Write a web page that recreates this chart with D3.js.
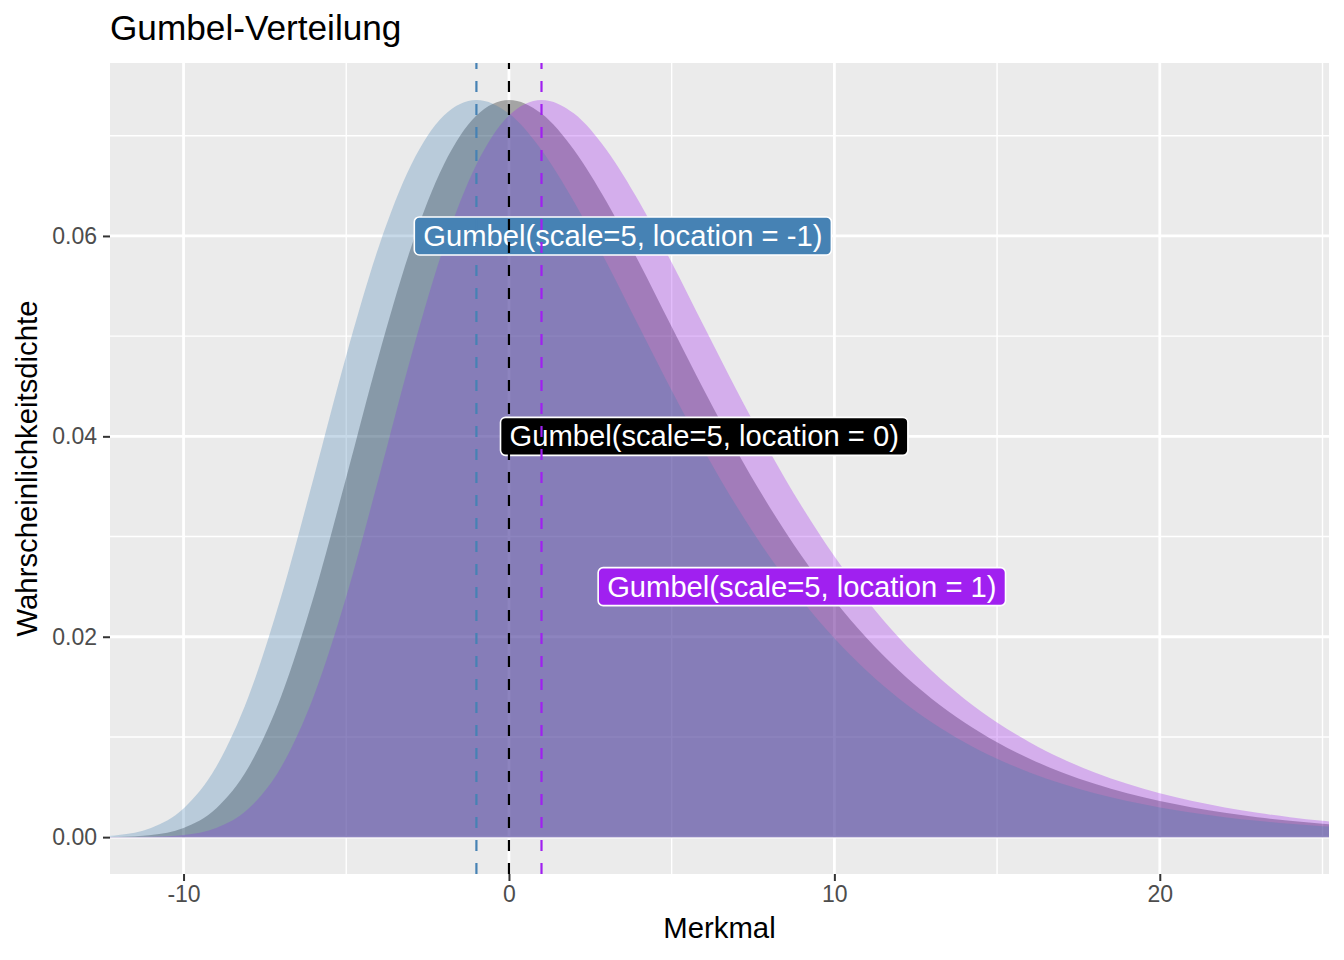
<!DOCTYPE html>
<html>
<head>
<meta charset="utf-8">
<script src="https://cdn.jsdelivr.net/npm/d3@7"></script>
<style>
  body { margin: 0; background: #fff; }
  text { font-family: "Liberation Sans", Arial, Helvetica, sans-serif; }
</style>
</head>
<body>
<div id="chart"></div>
<script>
const merkmal = [-13, -12, -11, -10, -9, -8, -7, -6, -5, -4, -3, -2, -1, 0, 1, 2, 3, 4, 5, 6,
  7, 8, 9, 10, 11, 12, 13, 14, 15, 16, 17, 18, 19, 20, 21, 22, 23, 24, 25, 26]

const dichteLocM1 = [0.000036, 0.000217, 0.000913, 0.002854, 0.006997, 0.014055, 0.024006, 0.035866,
  0.048072, 0.058922, 0.067118, 0.072014, 0.073576, 0.072212, 0.068576, 0.0634, 0.057342, 0.05093,
  0.04457, 0.038542, 0.032998, 0.028024, 0.023642, 0.01984, 0.01657, 0.013792, 0.011446, 0.009474,
  0.007826, 0.006456, 0.005318, 0.004376, 0.003596, 0.002954, 0.002425, 0.00199, 0.001632, 0.001339,
  0.001098, 0.000901]

const dichteLoc0 = [0.0000038, 0.000036, 0.000217, 0.000913, 0.002854, 0.006997, 0.014055, 0.024006,
  0.035866, 0.048072, 0.058922, 0.067118, 0.072014, 0.073576, 0.072212, 0.068576, 0.0634, 0.057342,
  0.05093, 0.04457, 0.038542, 0.032998, 0.028024, 0.023642, 0.01984, 0.01657, 0.013792, 0.011446,
  0.009474, 0.007826, 0.006456, 0.005318, 0.004376, 0.003596, 0.002954, 0.002425, 0.00199, 0.001632,
  0.001339, 0.001098]

const dichteLocP1 = [0.00000024, 0.0000038, 0.000036, 0.000217, 0.000913, 0.002854, 0.006997, 0.014055,
  0.024006, 0.035866, 0.048072, 0.058922, 0.067118, 0.072014, 0.073576, 0.072212, 0.068576, 0.0634,
  0.057342, 0.05093, 0.04457, 0.038542, 0.032998, 0.028024, 0.023642, 0.01984, 0.01657, 0.013792,
  0.011446, 0.009474, 0.007826, 0.006456, 0.005318, 0.004376, 0.003596, 0.002954, 0.002425, 0.00199,
  0.001632, 0.001339]

const lagen = [-1, 0, 1]
const farben = ["#4682B4", "#000000", "#A020F0"]
const labelTexte = [
  "Gumbel(scale=5, location = -1)",
  "Gumbel(scale=5, location = 0)",
  "Gumbel(scale=5, location = 1)"
]
const labelX = [3.5, 6, 9]
const labelY = [0.06, 0.04, 0.025]

const xTicks = [-10, 0, 10, 20]
const xMinor = [-5, 5, 15, 25]
const yTicks = [0, 0.02, 0.04, 0.06]
const yMinor = [0.01, 0.03, 0.05, 0.07]

const width = 1344
const height = 960
const margin = { top: 63, right: 15, bottom: 86, left: 110 }

const svg = d3.select("#chart").append("svg")
  .attr("width", width)
  .attr("height", height)
  .attr("viewBox", [0, 0, width, height])

const x = d3.scaleLinear().domain([-12.26, 25.2]).range([margin.left, width - margin.right])
const y = d3.scaleLinear().domain([-0.00368, 0.07726]).range([height - margin.bottom, margin.top])

// Panel
svg.append("rect")
  .attr("x", margin.left).attr("y", margin.top)
  .attr("width", width - margin.left - margin.right)
  .attr("height", height - margin.top - margin.bottom)
  .attr("fill", "#EBEBEB")

svg.append("clipPath").attr("id", "panel")
  .append("rect")
  .attr("x", margin.left).attr("y", margin.top)
  .attr("width", width - margin.left - margin.right)
  .attr("height", height - margin.top - margin.bottom)

const grid = svg.append("g").attr("stroke", "#fff")
grid.selectAll(".vmin").data(xMinor).join("line")
  .attr("x1", d => x(d)).attr("x2", d => x(d))
  .attr("y1", margin.top).attr("y2", height - margin.bottom)
  .attr("stroke-width", 1.4)
grid.selectAll(".hmin").data(yMinor).join("line")
  .attr("y1", d => y(d)).attr("y2", d => y(d))
  .attr("x1", margin.left).attr("x2", width - margin.right)
  .attr("stroke-width", 1.4)
grid.selectAll(".vmaj").data(xTicks).join("line")
  .attr("x1", d => x(d)).attr("x2", d => x(d))
  .attr("y1", margin.top).attr("y2", height - margin.bottom)
  .attr("stroke-width", 2.8)
grid.selectAll(".hmaj").data(yTicks).join("line")
  .attr("y1", d => y(d)).attr("y2", d => y(d))
  .attr("x1", margin.left).attr("x2", width - margin.right)
  .attr("stroke-width", 2.8)

// Flaechen
const serien = [dichteLocM1, dichteLoc0, dichteLocP1].map((werte, i) => ({
  lage: lagen[i],
  farbe: farben[i],
  punkte: merkmal.map((m, j) => [m, werte[j]])
}))

// Zeichenreihenfolge wie im Original: Lage 0, Lage 1, Lage -1
const reihenfolge = [serien[1], serien[2], serien[0]]

const area = d3.area()
  .x(d => x(d[0]))
  .y0(y(0))
  .y1(d => y(d[1]))
  .curve(d3.curveMonotoneX)

const plot = svg.append("g").attr("clip-path", "url(#panel)")
plot.selectAll("path.flaeche").data(reihenfolge).join("path")
  .attr("class", "flaeche")
  .attr("d", d => area(d.punkte))
  .attr("fill", d => d.farbe)
  .attr("fill-opacity", 0.3)

// Labels
const labels = plot.selectAll("g.label").data(serien).join("g")
  .attr("class", "label")
  .attr("transform", (d, i) => `translate(${x(labelX[i])},${y(labelY[i])})`)

labels.append("text")
  .attr("text-anchor", "middle")
  .attr("dominant-baseline", "central")
  .attr("font-size", 29.2)
  .attr("fill", "#fff")
  .text((d, i) => labelTexte[i])
  .each(function () {
    const b = this.getBBox()
    const pad = 9
    d3.select(this.parentNode).insert("rect", "text")
      .attr("x", b.x - pad)
      .attr("y", -19)
      .attr("width", b.width + 2 * pad)
      .attr("height", 38)
      .attr("rx", 5)
      .attr("fill", d3.select(this.parentNode).datum().farbe)
      .attr("stroke", "#fff")
      .attr("stroke-width", 1.6)
  })

// gestrichelte Linien
plot.selectAll("line.lage").data(serien).join("line")
  .attr("class", "lage")
  .attr("x1", d => x(d.lage)).attr("x2", d => x(d.lage))
  .attr("y1", height - margin.bottom).attr("y2", margin.top)
  .attr("stroke", d => d.farbe)
  .attr("stroke-width", 2.2)
  .attr("stroke-dasharray", "11,12")

// Achsen
const fmtX = d => String(d)
const xAxis = svg.append("g")
  .attr("transform", `translate(0,${height - margin.bottom})`)
  .call(d3.axisBottom(x).tickValues(xTicks).tickFormat(fmtX).tickSize(7).tickPadding(5))
xAxis.select(".domain").remove()

const yAxis = svg.append("g")
  .attr("transform", `translate(${margin.left},0)`)
  .call(d3.axisLeft(y).tickValues(yTicks).tickFormat(d => d.toFixed(2)).tickSize(7).tickPadding(6))
yAxis.select(".domain").remove()

svg.selectAll(".tick line").attr("stroke", "#333333").attr("stroke-width", 2)
svg.selectAll(".tick text")
  .attr("fill", "#4D4D4D")
  .attr("font-size", 23)
  .attr("font-family", "'Liberation Sans', Arial, Helvetica, sans-serif")

svg.append("text")
  .attr("x", (margin.left + width - margin.right) / 2)
  .attr("y", 938)
  .attr("text-anchor", "middle")
  .attr("font-size", 29.3)
  .attr("fill", "#000")
  .text("Merkmal")

svg.append("text")
  .attr("transform", `translate(37,${(margin.top + height - margin.bottom) / 2}) rotate(-90)`)
  .attr("text-anchor", "middle")
  .attr("font-size", 29.3)
  .attr("fill", "#000")
  .text("Wahrscheinlichkeitsdichte")

svg.append("text")
  .attr("x", margin.left)
  .attr("y", 40)
  .attr("font-size", 35.2)
  .attr("fill", "#000")
  .text("Gumbel-Verteilung")
</script>
</body>
</html>
